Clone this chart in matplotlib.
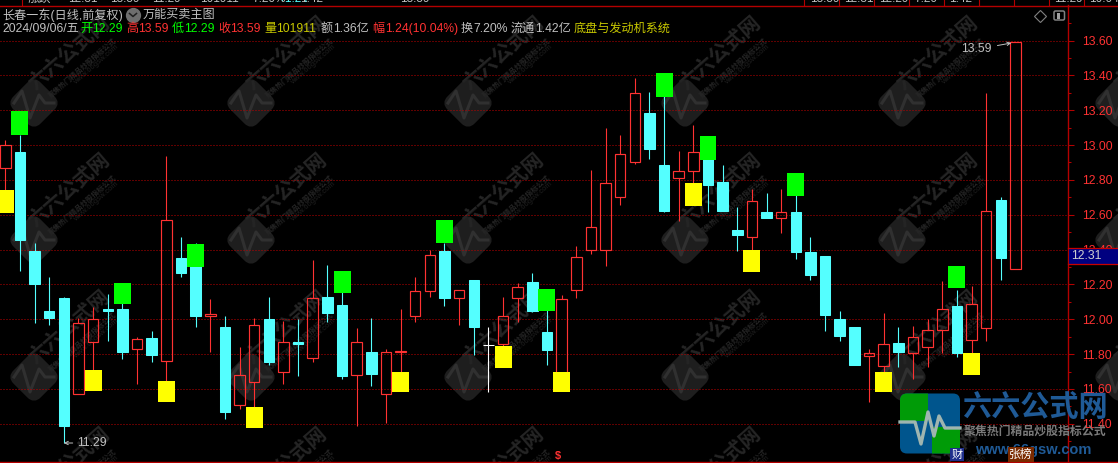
import matplotlib
matplotlib.use("Agg")
import matplotlib.pyplot as plt
from matplotlib.patches import FancyBboxPatch, Rectangle
from matplotlib.transforms import Affine2D

FONT = ['Liberation Sans', 'Noto Sans CJK SC', 'DejaVu Sans']
CJK = ['Noto Sans CJK SC', 'DejaVu Sans']

# K线数据
opens = [12.87, 12.96, 12.39, 12.05, 12.12, 11.57, 11.87, 12.06, 12.06, 11.83,
         11.89, 11.76, 12.35, 12.40, 12.02, 11.955, 11.51, 11.64, 12.00, 11.70,
         11.87, 11.78, 12.13, 12.08, 11.68, 11.81, 11.57, 11.81, 12.02, 12.16,
         12.39, 12.12, 12.225, 11.85, 11.86, 12.12, 12.215, 11.925, 11.68, 12.17,
         12.40, 12.40, 12.70, 12.90, 13.185, 12.885, 12.81, 12.85, 12.97, 12.79,
         12.51, 12.47, 12.615, 12.58, 12.615, 12.385, 12.365, 12.00, 11.955, 11.79,
         11.73, 11.865, 11.805, 11.84, 11.94, 12.075, 11.88, 11.95, 12.685, 12.29]
closes = [13.00, 12.455, 12.20, 12.01, 11.39, 11.98, 12.00, 12.05, 11.81, 11.885,
          11.795, 12.57, 12.265, 12.02, 12.03, 11.47, 11.68, 11.965, 11.755, 11.87,
          11.86, 12.12, 12.035, 11.675, 11.87, 11.685, 11.81, 11.82, 12.16, 12.37,
          12.12, 12.17, 11.955, 11.85, 12.02, 12.185, 12.05, 11.825, 12.115, 12.36,
          12.53, 12.78, 12.95, 13.30, 12.98, 12.62, 12.85, 12.96, 12.77, 12.62,
          12.485, 12.68, 12.58, 12.615, 12.385, 12.255, 12.025, 11.905, 11.74, 11.805,
          11.86, 11.81, 11.90, 11.94, 12.06, 11.805, 12.09, 12.62, 12.35, 13.59]
highs = [13.03, 13.06, 12.44, 12.24, 12.13, 12.01, 12.07, 12.145, 12.10, 11.90,
         11.93, 12.94, 12.47, 12.44, 12.115, 12.02, 11.84, 12.01, 12.13, 11.99,
         12.00, 12.34, 12.31, 12.155, 11.95, 12.01, 11.83, 12.06, 12.24, 12.40,
         12.44, 12.17, 12.225, 11.955, 12.13, 12.21, 12.265, 12.08, 12.14, 12.42,
         12.857, 13.10, 13.06, 13.385, 13.305, 13.315, 12.965, 13.115, 13.05, 12.885,
         12.645, 12.75, 12.725, 12.75, 12.74, 12.47, 12.365, 12.05, 11.955, 11.83,
         12.035, 11.955, 11.96, 12.00, 12.22, 12.17, 12.19, 13.30, 12.70, 13.59]
lows = [12.74, 12.28, 11.98, 11.97, 11.29, 11.57, 11.68, 11.875, 11.77, 11.63,
        11.755, 11.62, 12.24, 11.955, 11.81, 11.43, 11.485, 11.47, 11.74, 11.63,
        11.675, 11.755, 11.985, 11.655, 11.39, 11.62, 11.405, 11.62, 11.985, 12.13,
        12.075, 11.97, 11.795, 11.58, 11.81, 11.985, 12.04, 11.74, 11.68, 12.12,
        12.375, 12.305, 12.655, 12.89, 12.92, 12.615, 12.565, 12.77, 12.615, 12.62,
        12.39, 12.37, 12.58, 12.495, 12.345, 12.225, 11.93, 11.875, 11.74, 11.525,
        11.70, 11.725, 11.66, 11.725, 11.805, 11.785, 11.78, 11.875, 12.225, 12.29]

# 卖出信号(绿块)与买入信号(黄块)
sell_idx = [1, 8, 13, 23, 30, 37, 45, 48, 54, 65]
sell_top = [13.195, 12.21, 12.43, 12.28, 12.57, 12.175, 13.415, 13.05, 12.84, 12.305]
sell_bot = [13.06, 12.09, 12.30, 12.15, 12.44, 12.05, 13.275, 12.915, 12.71, 12.18]
buy_idx = [0, 6, 11, 17, 27, 34, 38, 47, 51, 60, 66]
buy_top = [12.74, 11.71, 11.645, 11.495, 11.70, 11.845, 11.70, 12.78, 12.40, 11.70, 11.805]
buy_bot = [12.61, 11.59, 11.525, 11.375, 11.58, 11.72, 11.58, 12.65, 12.27, 11.58, 11.68]

price_ticks = [11.40, 11.60, 11.80, 12.00, 12.20, 12.40, 12.60, 12.80, 13.00, 13.20, 13.40, 13.60]
minor_ticks = [11.30, 11.50, 11.70, 11.90, 12.10, 12.30, 12.50, 12.70, 12.90, 13.10, 13.30, 13.50, 13.70]

header_top = [("长春一东(日线,前复权)", 2, "#c0c0c0"), ("万能买卖主图", 143, "#c0c0c0")]
header_line = [("2024/09/06/五", 2, "#c0c0c0"),
               ("开", 80, "#00ff00"), ("12.29", 92, "#00ff00"),
               ("高", 126, "#ff3232"), ("13.59", 138, "#ff3232"),
               ("低", 172, "#00ff00"), ("12.29", 184, "#00ff00"),
               ("收", 218, "#ff3232"), ("13.59", 230, "#ff3232"),
               ("量", 264, "#c8c800"), ("101911", 276, "#c8c800"),
               ("额", 321, "#c0c0c0"), ("1.36亿", 333, "#c0c0c0"),
               ("幅", 372, "#ff3232"), ("1.24(10.04%)", 385, "#ff3232"),
               ("换", 461, "#c0c0c0"), ("7.20%", 473, "#c0c0c0"),
               ("流通", 511, "#c0c0c0"), ("1.42亿", 535, "#c0c0c0"),
               ("底盘与发动机系统", 574, "#c8c800")]

RED = "#ff3232"
CYAN = "#54ffff"
AXIS_RED = "#b40000"

fig = plt.figure(figsize=(11.18, 4.63), dpi=100, facecolor="black")


def pixel_axes(zorder):
    a = fig.add_axes([0, 0, 1, 1], zorder=zorder)
    a.set_xlim(0, 1118)
    a.set_ylim(463, 0)
    a.axis("off")
    return a


# 水印层
bg = pixel_axes(0)
wm_x = [34, 251, 468, 685, 902, 1119]
wm_y = [103, 240, 377, 514]
pulse_x = [-20, -12, -4, 5, 11, 20]
pulse_y = [0, -12, 15, -8, 0, 0]
for cx in wm_x:
    for cy in wm_y:
        rot = Affine2D().rotate_deg_around(cx, cy, 45) + bg.transData
        bg.add_patch(FancyBboxPatch((cx - 15, cy - 15), 30, 30, boxstyle="round,pad=0,rounding_size=5",
                                    fc="#1e1e1e", ec="#1e1e1e", lw=6, transform=rot))
        bg.plot([cx + p for p in pulse_x], [cy + p for p in pulse_y], color="#303030", lw=2.2)
        bg.text(cx + 35, cy - 50, "六六公式网", color="#252525", fontsize=14.5, fontweight="bold",
                family=CJK, rotation=41, ha="center", va="center", rotation_mode="anchor")
        bg.text(cx + 48, cy - 35, "聚焦热门精品炒股指标公式", color="#252525", fontsize=5.2, fontweight="bold",
                family=CJK, rotation=41, ha="center", va="center", rotation_mode="anchor")
        bg.text(cx + 62, cy - 38, "www.66gsw.com", color="#202020", fontsize=5.5,
                family=FONT, rotation=41, ha="center", va="center", rotation_mode="anchor")

# 主图
ax = fig.add_axes([0, 1 / 463, 1068 / 1118, 456.5 / 463], zorder=1)
ax.patch.set_alpha(0)
ax.set_xlim(-0.362, 72.59)
ax.set_ylim(11.181, 13.801)

for y in price_ticks:
    ax.axhline(y, color="#c00000", lw=0.72, ls=(0, (1, 2)), zorder=1)

for i in range(len(opens)):
    o, c, h, l = opens[i], closes[i], highs[i], lows[i]
    top, bot = max(o, c), min(o, c)
    col = "white" if o == c else (RED if c > o else CYAN)
    ax.vlines(i, top, h, color=col, lw=0.8, zorder=2)
    ax.vlines(i, l, bot, color=col, lw=0.8, zorder=2)
    if c > o:
        ax.bar(i, top - bot, bottom=bot, width=0.72, facecolor="none", edgecolor=col, linewidth=0.85, zorder=2)
    else:
        ax.bar(i, top - bot, bottom=bot, width=0.72, color=col, edgecolor=col, linewidth=0.75, zorder=2)

ax.bar(sell_idx, [t - b for t, b in zip(sell_top, sell_bot)], bottom=sell_bot, width=1.16,
       color="#00ff00", zorder=3)
ax.bar(buy_idx, [t - b for t, b in zip(buy_top, buy_bot)], bottom=buy_bot, width=1.16,
       color="#ffff00", zorder=3)

ax.annotate("11.29", xy=(4, min(lows)), xytext=(13, 0), textcoords="offset pixels",
            color="#c0c0c0", fontsize=8.8, family=FONT, va="center", ha="left",
            arrowprops=dict(arrowstyle="->", color="#c0c0c0", lw=0.7, shrinkA=1, shrinkB=0, mutation_scale=6))
ax.annotate("13.59", xy=(69, max(highs)), xytext=(-54, -7), textcoords="offset pixels",
            color="#c0c0c0", fontsize=8.8, family=FONT, va="center", ha="left",
            arrowprops=dict(arrowstyle="->", color="#c0c0c0", lw=0.7, shrinkA=2, shrinkB=3, mutation_scale=6))

ax.spines["left"].set_visible(False)
for s in ["top", "bottom", "right"]:
    ax.spines[s].set_color(AXIS_RED)
    ax.spines[s].set_linewidth(1.0)
ax.xaxis.set_visible(False)
ax.yaxis.tick_right()
ax.set_yticks(price_ticks)
ax.set_yticklabels(["%.2f" % t for t in price_ticks], color=RED, fontsize=8.8, family=FONT)
ax.set_yticks(minor_ticks, minor=True)
ax.tick_params(axis="y", which="major", length=4.5, width=0.75, color=AXIS_RED, pad=6)
ax.tick_params(axis="y", which="minor", length=2.5, width=0.75, color=AXIS_RED)

# 前景: 标题, 图标, 现价框, logo
fg = pixel_axes(2)
fg.plot([1068, 1118], [5.5, 5.5], color=AXIS_RED, lw=1.0)
fg.plot([1068, 1118], [461.5, 461.5], color=AXIS_RED, lw=1.0)
for x in [22, 804, 839, 874, 909, 944, 979, 1014, 1049, 1084]:
    fg.plot([x, x], [0, 5], color=AXIS_RED, lw=0.8)

# 顶部被裁掉的行情栏
strip = ["涨跌", "12.31", "13.59", "11.29", "101911", "7.20%", "1.42", "13.59"]
for t, x in zip(strip, [28, 68, 110, 152, 200, 252, 300, 400]):
    fg.text(x, 1.5, t, color="#c0c0c0", fontsize=8.5, family=FONT, va="baseline", clip_on=True)
fg.text(278, 1.5, "+1.24", color=CYAN, fontsize=8.5, family=FONT, va="baseline", clip_on=True)
for t, x in zip(["13.59", "12.31", "12.29", "7.20", "1.42", "11.29", "10.04"],
                [810, 844, 879, 914, 949, 1054, 1089]):
    fg.text(x, 1.5, t, color="#c0c0c0", fontsize=8.5, family=FONT, va="baseline", clip_on=True)

for t, x, col in header_top:
    fg.text(x, 15, t, color=col, fontsize=8.7, family=FONT, va="center")
for t, x, col in header_line:
    fg.text(x, 29, t, color=col, fontsize=8.7, family=FONT, va="center")

# 下拉图标
fg.plot([133], [15], marker="o", ms=11, color="#6e6e6e", mec="none")
fg.plot([129.5, 133, 136.5], [13.5, 16.5, 13.5], color="#202020", lw=1.1)

# 右上角按钮
fg.plot([1040], [15.5], marker="D", ms=6.2, mfc="none", mec="#808080", mew=0.8)
fg.add_patch(FancyBboxPatch((1054, 11), 10.5, 9, boxstyle="round,pad=0,rounding_size=1.5",
                            fc="black", ec="#808080", lw=1.1))
fg.add_patch(Rectangle((1056.5, 12.5), 3.5, 6, fc="#a0a0a0", ec="none"))

# 现价框
fg.add_patch(Rectangle((1069, 248), 49, 16, fc="#000080", ec="none"))
fg.plot([1068, 1118], [248, 248], color="#c80000", lw=0.9)
fg.plot([1068, 1118], [264, 264], color="#c80000", lw=0.9)
fg.text(1071, 256, "12.31", color="#d0d0d0", fontsize=8.8, family=FONT, va="center")

# 底部
fg.text(558, 456, "$", color=RED, fontsize=8, fontweight="bold", family=FONT, ha="center", va="center")

# logo
logo = FancyBboxPatch((900, 393.5), 60, 60, boxstyle="round,pad=0,rounding_size=7",
                      fc="#005a96", ec="none", alpha=0.95, transform=fg.transData)
fg.add_patch(logo)
green1 = Rectangle((900, 393), 28, 28, fc="#00a000", ec="none", alpha=0.95)
green2 = Rectangle((932, 427), 28, 27, fc="#00a000", ec="none", alpha=0.95)
fg.add_patch(green1)
fg.add_patch(green2)
green1.set_clip_path(logo)
green2.set_clip_path(logo)
fg.plot([900, 915, 921, 928, 934, 939, 945, 960], [422, 422, 444, 412, 436, 416, 428, 428],
        color="#9fb5b0", lw=2.4)
fg.text(1035, 407, "六六公式网", color="#1f5a96", fontsize=21, fontweight="bold", family=CJK,
        ha="center", va="center")
fg.text(1035, 431, "聚焦热门精品炒股指标公式", color="#7a7a7a", fontsize=8.6, fontweight="bold", family=CJK,
        ha="center", va="center")
fg.text(1033, 450, "www.66gsw.com", color="#1f5a96", fontsize=10.5, fontweight="bold", family=FONT,
        ha="center", va="center")

fg.text(957, 454.5, "财", color="white", fontsize=8, family=CJK, ha="center", va="center",
        bbox=dict(fc="#1f2f8c", ec="none", pad=1))
fg.text(1021, 454.5, "张榜", color="white", fontsize=8.5, family=CJK, ha="center", va="center",
        bbox=dict(fc="#7a2a00", ec="none", pad=1))

fig.savefig("out.png", dpi=100, facecolor="black")
